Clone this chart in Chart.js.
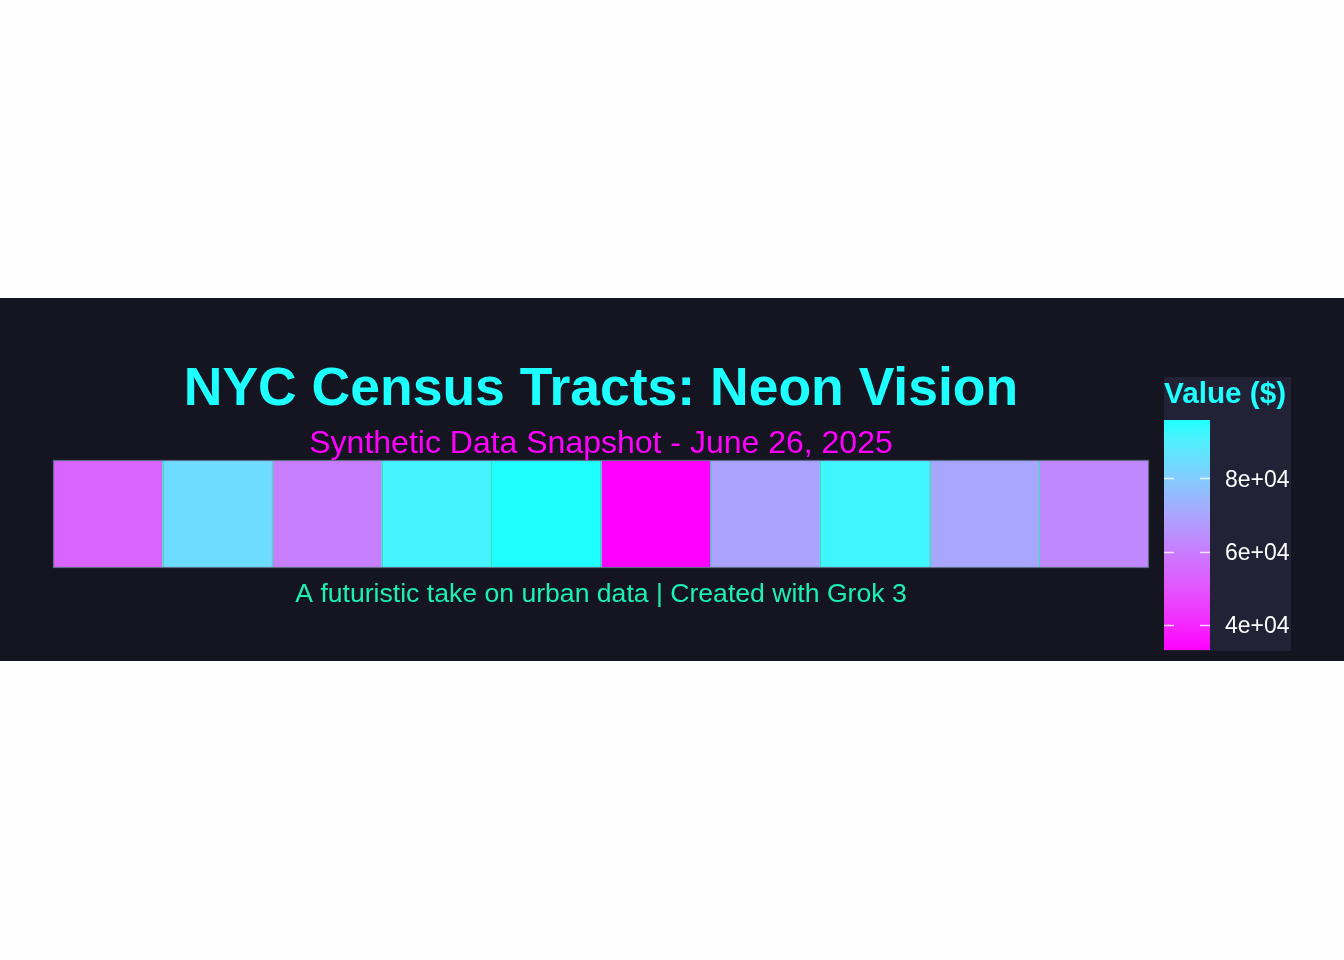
<!DOCTYPE html>
<html><head><meta charset="utf-8">
<script src="https://cdn.jsdelivr.net/npm/chart.js@4/dist/chart.umd.min.js"></script>
<style>
html,body{margin:0;padding:0;background:#fefefe;width:1344px;height:960px;overflow:hidden;}
#panel{position:absolute;left:0;top:298px;width:1344px;height:363px;background:#151521;}
#main{position:absolute;left:0;top:0;width:1150px;height:363px;}
#cbar{position:absolute;left:1150px;top:0;width:194px;height:363px;}
</style></head><body>
<div id="panel"><canvas id="main" width="1150" height="363"></canvas><canvas id="cbar" width="194" height="363"></canvas></div>
<script>
// ---- data ----
const tracts = ['Tract 1','Tract 2','Tract 3','Tract 4','Tract 5','Tract 6','Tract 7','Tract 8','Tract 9','Tract 10'];
const values = [54000, 84500, 60500, 91500, 95900, 33200, 69500, 92000, 70500, 63000];
const tickValues = [40000, 60000, 80000];
const tickLabels = ['4e+04', '6e+04', '8e+04'];
const titleText = 'NYC Census Tracts: Neon Vision';
const subtitleText = 'Synthetic Data Snapshot - June 26, 2025';
const captionText = 'A futuristic take on urban data | Created with Grok 3';
const legendTitle = 'Value ($)';
// colour-scale stops (fraction of range -> rgb), low = magenta, high = cyan
const paletteStops = [0, 0.11, 0.27, 0.43, 0.59, 0.75, 0.91, 1];
const paletteColors = [[255,0,255],[245,40,255],[228,85,255],[200,125,255],[170,165,255],[130,205,255],[80,240,255],[32,255,255]];

const FONT = '"Liberation Sans", Arial, Helvetica, sans-serif';
const vmin = Math.min(...values), vmax = Math.max(...values);

function colorFor(v){
  const t=Math.max(0,Math.min(1,(v-vmin)/(vmax-vmin)));
  let i=0;
  while(i<paletteStops.length-2 && t>paletteStops[i+1]) i++;
  const f=(t-paletteStops[i])/(paletteStops[i+1]-paletteStops[i]);
  const a=paletteColors[i], b=paletteColors[i+1];
  const c=[0,1,2].map(k=>Math.round(a[k]+(b[k]-a[k])*f));
  return `rgb(${c[0]},${c[1]},${c[2]})`;
}

// ---- main tile chart ----
const textPlugin = {
  id:'texts',
  afterDatasetsDraw(chart){
    const ctx=chart.ctx, ca=chart.chartArea, xs=chart.scales.x;
    ctx.save();
    ctx.strokeStyle='#33E6AA'; ctx.lineWidth=1;
    for(let i=1;i<tracts.length;i++){
      const x=Math.round((xs.getPixelForValue(i-1)+xs.getPixelForValue(i))/2)+0.5;
      ctx.beginPath(); ctx.moveTo(x,ca.top); ctx.lineTo(x,ca.bottom); ctx.stroke();
    }
    ctx.strokeStyle='#5C6C84'; ctx.lineWidth=1.2;
    ctx.strokeRect(ca.left+0.5, ca.top+0.5, ca.right-ca.left-1, ca.bottom-ca.top-1);
    ctx.restore();
  },
  afterDraw(chart){
    const ctx=chart.ctx, ca=chart.chartArea, cx=(ca.left+ca.right)/2;
    ctx.save();
    ctx.textAlign='center'; ctx.textBaseline='alphabetic';
    ctx.fillStyle='#1EFFFF'; ctx.font='bold 53.5px '+FONT;
    ctx.fillText(titleText, cx, 107);
    ctx.fillStyle='#FF00FF'; ctx.font='32px '+FONT;
    ctx.fillText(subtitleText, cx, 155);
    ctx.fillStyle='#1CF0B2'; ctx.font='26.6px '+FONT;
    ctx.fillText(captionText, cx, 304);
    ctx.restore();
  }
};
new Chart(document.getElementById('main'), {
  type:'bar',
  data:{labels:tracts, datasets:[{
    data: values.map(()=>[0,1]),
    backgroundColor: values.map(colorFor),
    borderWidth:0,
    barPercentage:1, categoryPercentage:1
  }]},
  options:{
    responsive:false, animation:false,
    layout:{padding:{left:53,right:1,top:162,bottom:93}},
    scales:{x:{display:false}, y:{display:false,min:0,max:1}},
    plugins:{legend:{display:false}, tooltip:{enabled:false}}
  },
  plugins:[textPlugin]
});

// ---- colour bar ----
const cbarPlugin = {
  id:'cbarDeco',
  beforeDraw(chart){
    const ctx=chart.ctx;
    ctx.save();
    ctx.fillStyle='#222236';
    ctx.fillRect(14,79,127,274);
    ctx.fillStyle='#1EFFFF'; ctx.font='bold 29.7px '+FONT;
    ctx.textAlign='left'; ctx.textBaseline='alphabetic';
    ctx.fillText(legendTitle, 14, 105);
    ctx.restore();
  },
  afterDatasetsDraw(chart){
    const ctx=chart.ctx, ca=chart.chartArea, ys=chart.scales.y;
    ctx.save();
    tickValues.forEach((v,i)=>{
      const yp=ys.getPixelForValue(v);
      const y=Math.round(yp)+0.5;
      ctx.strokeStyle='rgba(255,255,255,0.8)'; ctx.lineWidth=1.5;
      ctx.beginPath();
      ctx.moveTo(ca.left,y); ctx.lineTo(ca.left+10,y);
      ctx.moveTo(ca.right-10,y); ctx.lineTo(ca.right,y);
      ctx.stroke();
      ctx.fillStyle='#ffffff'; ctx.font='23px '+FONT;
      ctx.textAlign='left'; ctx.textBaseline='alphabetic';
      ctx.fillText(tickLabels[i], ca.right+15, yp+8.3);
    });
    ctx.restore();
  }
};
new Chart(document.getElementById('cbar'), {
  type:'bar',
  data:{labels:[legendTitle], datasets:[{
    data:[[vmin,vmax]],
    backgroundColor:(c)=>{
      const chart=c.chart, ca=chart.chartArea;
      if(!ca) return colorFor(vmin);
      const ys=chart.scales.y;
      const g=chart.ctx.createLinearGradient(0,ys.getPixelForValue(vmin),0,ys.getPixelForValue(vmax));
      const n=40;
      for(let i=0;i<=n;i++) g.addColorStop(i/n, colorFor(vmin+(vmax-vmin)*i/n));
      return g;
    },
    borderWidth:0, barPercentage:1, categoryPercentage:1
  }]},
  options:{
    responsive:false, animation:false,
    layout:{padding:{left:14,right:134,top:122,bottom:11}},
    scales:{
      x:{display:false},
      y:{display:false, min:vmin, max:vmax}
    },
    plugins:{legend:{display:false}, tooltip:{enabled:false}}
  },
  plugins:[cbarPlugin]
});
</script>
</body></html>
